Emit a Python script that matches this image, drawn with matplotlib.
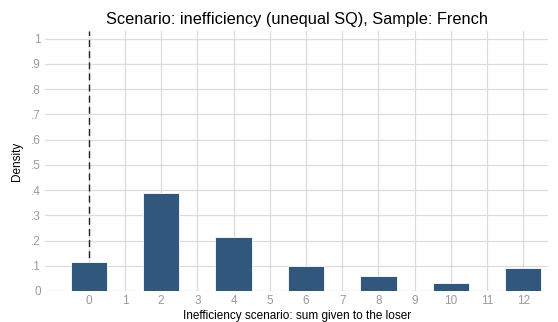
import matplotlib.pyplot as plt

plt.rcParams["font.family"] = ["Liberation Sans", "DejaVu Sans"]

# data -----------------------------------------------------------------------
sums = [0, 2, 4, 6, 8, 10, 12]
density = [0.115, 0.39, 0.215, 0.099, 0.058, 0.033, 0.091]
xticks = list(range(0, 13))
yticks = [0, 0.1, 0.2, 0.3, 0.4, 0.5, 0.6, 0.7, 0.8, 0.9, 1.0]
ytick_labels = ["0", ".1", ".2", ".3", ".4", ".5", ".6", ".7", ".8", ".9", "1"]

# plot -----------------------------------------------------------------------
fig = plt.figure(figsize=(5.58, 3.22), dpi=100)
ax = fig.add_axes([0.081, 0.0963, 0.901, 0.8074])

ax.axvline(0, color="#222222", ls=(0, (5, 3)), lw=1, zorder=1)
ax.bar(sums, density, width=1.0, color="#31587c", edgecolor="white",
       linewidth=0.6, zorder=2)

ax.set_xlim(-1.2, 12.68)
ax.set_ylim(0, 1.03)
ax.set_xticks(xticks)
ax.set_yticks(yticks)
ax.set_yticklabels(ytick_labels)
ax.tick_params(axis="both", length=0, labelsize=8.5, colors="#9a9a9a", pad=3)
ax.grid(color="#dcdcdc", lw=0.9, zorder=0)
ax.set_axisbelow(True)
for s in ax.spines.values():
    s.set_visible(False)

ax.set_xlabel("Inefficiency scenario: sum given to the loser", fontsize=8.5,
              labelpad=2)
ax.set_ylabel("Density", fontsize=8.5, labelpad=6)
ax.set_title("Scenario: inefficiency (unequal SQ), Sample: French",
             fontsize=11.8, pad=5)

fig.savefig("out.png", dpi=100)
